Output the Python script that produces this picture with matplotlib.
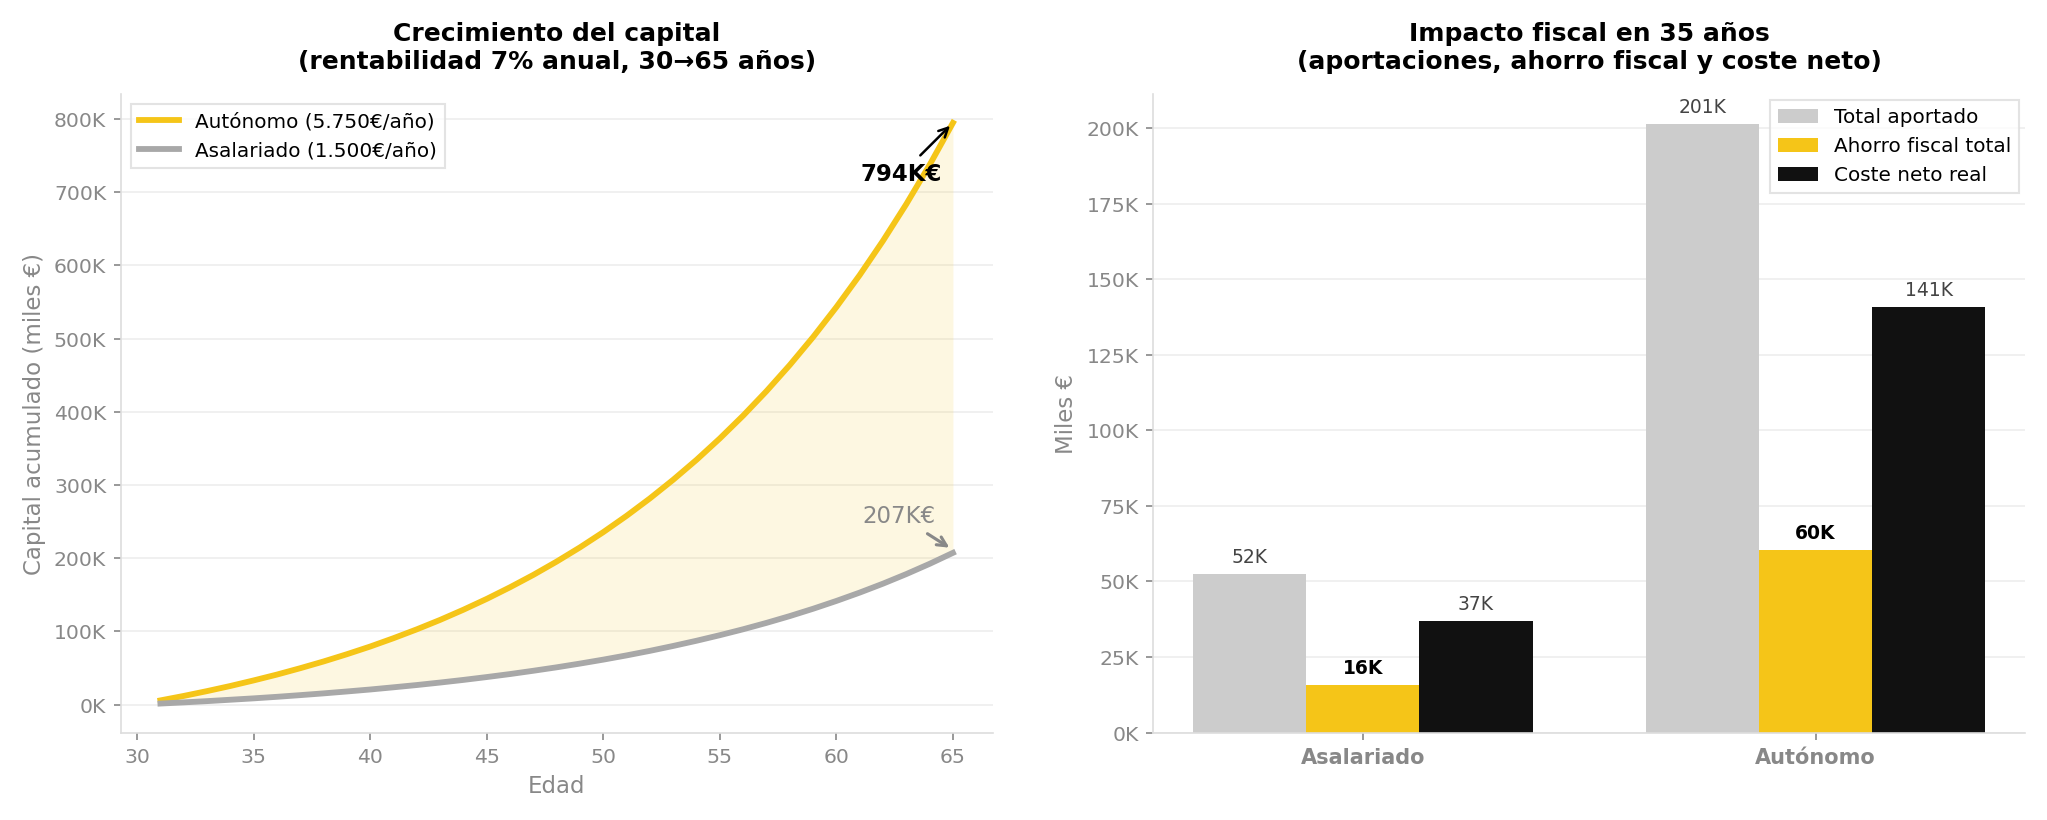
"""Plan de pensiones: crecimiento del capital e impacto fiscal."""
import matplotlib
matplotlib.use("Agg")
import matplotlib.pyplot as plt
import numpy as np

YELLOW = "#F5C518"
GREY_LINE = "#A8A8A8"
GREY_BAR = "#CCCCCC"
BLACK = "#111111"
TICK_GREY = "#888888"

# capital acumulado (miles de euros), edades 31..65
edades = list(range(31, 66))
autonomo = [5.8, 11.9, 18.5, 25.5, 33.1, 41.1, 49.8, 59.0, 68.9, 79.4,
            90.8, 102.9, 115.8, 129.7, 144.5, 160.4, 177.3, 195.5, 214.9, 235.7,
            258.0, 281.8, 307.3, 334.5, 363.7, 394.9, 428.3, 464.0, 502.2, 543.2,
            586.9, 633.8, 683.9, 737.5, 794.9]
asalariado = [1.5, 3.1, 4.8, 6.7, 8.6, 10.7, 13.0, 15.4, 18.0, 20.7,
              23.7, 26.8, 30.2, 33.8, 37.7, 41.8, 46.3, 51.0, 56.1, 61.5,
              67.3, 73.5, 80.2, 87.3, 94.9, 103.0, 111.7, 121.0, 131.0, 141.7,
              153.1, 165.3, 178.4, 192.4, 207.4]

# impacto fiscal (miles de euros)
perfiles = ["Asalariado", "Autónomo"]
total_aportado = [52.5, 201.25]
ahorro_fiscal = [15.75, 60.4]
coste_neto = [36.75, 140.9]
etiquetas_aportado = ["52K", "201K"]
etiquetas_ahorro = ["16K", "60K"]
etiquetas_neto = ["37K", "141K"]


def style_axes(ax):
    for side in ("top", "right"):
        ax.spines[side].set_visible(False)
    for side in ("left", "bottom"):
        ax.spines[side].set_color("#DDDDDD")
    ax.tick_params(colors=TICK_GREY, labelsize=9.8)
    ax.grid(axis="y", color="#EEEEEE", linewidth=0.8)
    ax.set_axisbelow(True)


fig, (ax1, ax2) = plt.subplots(1, 2, figsize=(13.65, 5.47), dpi=150)

# --- izquierda: crecimiento ---
ax1.plot(edades, autonomo, color=YELLOW, lw=2.8, label="Autónomo (5.750€/año)")
ax1.plot(edades, asalariado, color=GREY_LINE, lw=2.8, label="Asalariado (1.500€/año)")
ax1.fill_between(edades, asalariado, autonomo, color=YELLOW, alpha=0.13, lw=0)
style_axes(ax1)
ax1.yaxis.set_major_formatter(matplotlib.ticker.FuncFormatter(lambda v, p: f"{v:.0f}K"))
ax1.set_xlabel("Edad", color=TICK_GREY, fontsize=11)
ax1.set_ylabel("Capital acumulado (miles €)", color=TICK_GREY, fontsize=11)
ax1.set_title("Crecimiento del capital\n(rentabilidad 7% anual, 30→65 años)",
              fontsize=12, fontweight="bold", pad=12)
ax1.annotate("794K€", xy=(edades[-1], autonomo[-1]), xytext=(62.8, 725),
             fontsize=11, fontweight="bold", ha="center", va="center",
             arrowprops=dict(arrowstyle="->", color="black", lw=1.2))
ax1.annotate("207K€", xy=(edades[-1], asalariado[-1] + 4), xytext=(62.7, 258),
             fontsize=11, color=TICK_GREY, ha="center", va="center",
             arrowprops=dict(arrowstyle="->", color=TICK_GREY, lw=1.5))
ax1.legend(loc="upper left", fontsize=9.6, fancybox=False, edgecolor="#DDDDDD")

# --- derecha: impacto fiscal ---
x = np.arange(len(perfiles))
w = 0.25
b1 = ax2.bar(x - w, total_aportado, w, color=GREY_BAR, label="Total aportado")
b2 = ax2.bar(x, ahorro_fiscal, w, color=YELLOW, label="Ahorro fiscal total")
b3 = ax2.bar(x + w, coste_neto, w, color=BLACK, label="Coste neto real")
for bars, labels, bold in ((b1, etiquetas_aportado, False),
                           (b2, etiquetas_ahorro, True),
                           (b3, etiquetas_neto, False)):
    for rect, lab in zip(bars, labels):
        ax2.text(rect.get_x() + rect.get_width() / 2, rect.get_height() + 2.5, lab,
                 ha="center", va="bottom", fontsize=9,
                 fontweight="bold" if bold else "normal",
                 color="black" if bold else "#444444")
style_axes(ax2)
ax2.set_xticks(x, perfiles)
for t in ax2.get_xticklabels():
    t.set_fontweight("bold")
    t.set_fontsize(10)
ax2.yaxis.set_major_formatter(matplotlib.ticker.FuncFormatter(lambda v, p: f"{v:.0f}K"))
ax2.set_ylabel("Miles €", color=TICK_GREY, fontsize=11)
ax2.set_title("Impacto fiscal en 35 años\n(aportaciones, ahorro fiscal y coste neto)",
              fontsize=12, fontweight="bold", pad=12)
ax2.legend(loc="upper right", fontsize=9.6, fancybox=False, edgecolor="#DDDDDD",
           borderaxespad=0.3)

fig.tight_layout(w_pad=3)
fig.savefig("out.png", dpi=150)
plt.close(fig)
